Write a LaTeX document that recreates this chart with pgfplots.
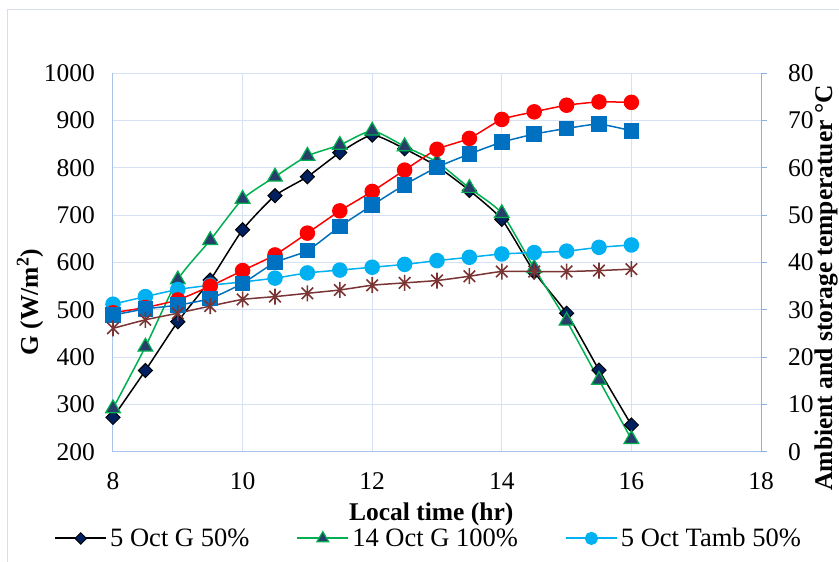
\documentclass[border=0pt]{standalone}
\usepackage{fontspec}
\setmainfont{Liberation Serif}
\usepackage{pgfplots}
\pgfplotsset{compat=1.18}
\definecolor{gridcol}{RGB}{214,226,244}
\definecolor{axiscol}{RGB}{168,196,234}
\definecolor{rightcol}{RGB}{143,175,222}
\definecolor{framecol}{RGB}{214,222,236}
\definecolor{navyc}{RGB}{0,32,96}
\definecolor{greenc}{RGB}{0,176,80}
\definecolor{trifill}{RGB}{38,62,105}
\definecolor{lblue}{RGB}{0,176,240}
\definecolor{redc}{RGB}{255,0,0}
\definecolor{bluec}{RGB}{0,112,192}
\definecolor{brownc}{RGB}{123,52,52}
\pgfdeclareplotmark{xstar}{%
  \pgfpathmoveto{\pgfqpoint{0pt}{\pgfplotmarksize}}%
  \pgfpathlineto{\pgfqpoint{0pt}{-\pgfplotmarksize}}%
  \pgfpathmoveto{\pgfqpoint{0.72\pgfplotmarksize}{0.72\pgfplotmarksize}}%
  \pgfpathlineto{\pgfqpoint{-0.72\pgfplotmarksize}{-0.72\pgfplotmarksize}}%
  \pgfpathmoveto{\pgfqpoint{-0.72\pgfplotmarksize}{0.72\pgfplotmarksize}}%
  \pgfpathlineto{\pgfqpoint{0.72\pgfplotmarksize}{-0.72\pgfplotmarksize}}%
  \pgfusepathqstroke}
\begin{document}
\begin{tikzpicture}[font=\fontsize{25.5}{30}\selectfont]
\path[use as bounding box] (0,0) rectangle (839pt,562pt);
\draw[framecol, line width=1pt] (7.5pt,-5pt) -- (7.5pt,552.7pt) -- (845pt,552.7pt);
\begin{axis}[
  at={(113pt,110pt)}, anchor=south west,
  scale only axis, width=648pt, height=379pt,
  xmin=8, xmax=18, ymin=200, ymax=1000,
  xtick={8,10,12,14,16,18}, ytick={200,300,...,1000},
  grid=major, major grid style={gridcol, line width=1pt},
  axis x line*=bottom, axis y line*=left,
  axis line style={axiscol, line width=1pt, -},
  major tick length=0pt,
  /pgf/number format/assume math mode=true,
  /pgf/number format/1000 sep={},
  xticklabel style={anchor=north, inner sep=0pt, yshift=-20pt},
  yticklabel style={anchor=east, inner sep=0pt, xshift=-18pt},
  xlabel={\bfseries Local time (hr)},
  xlabel style={at={(axis description cs:0.491,-0.164)}, anchor=center},
  ylabel={\bfseries G (W/m\textsuperscript{2})},
  ylabel style={at={(axis description cs:-0.128,0.395)}, anchor=center},
  clip=false,
  legend columns=3,
  legend style={at={(axis description cs:-0.091,-0.228)}, anchor=west, draw=none, fill=none, inner sep=0pt,
    font=\fontsize{26.5}{31}\selectfont,
    nodes={inner sep=3pt, anchor=west}, /tikz/every even column/.append style={column sep=44pt}},
  legend image code/.code={\draw[mark repeat=2,mark phase=2,#1,line width=2pt,every mark/.append style={scale=0.8}] plot coordinates {(0pt,0pt)(25.5pt,0pt)(51pt,0pt)};},
]
\addplot[black, line width=1.5pt, smooth, tension=0.35, mark=square*, mark size=5pt,
  mark options={rotate=45, fill=navyc, draw=black, line width=1pt}] coordinates {
(8,273) (8.5,372) (9,475) (9.5,563) (10,669) (10.5,741) (11,781) (11.5,832) (12,869)
(12.5,840) (13,803) (13.5,752) (14,691) (14.5,580) (15,493) (15.5,373) (16,257)};
\addlegendentry{5 Oct G 50\%}
\addplot[greenc, line width=1.5pt, smooth, tension=0.35, mark=triangle*, mark size=8.5pt,
  mark options={fill=trifill, draw=greenc, line width=1.2pt}] coordinates {
(8,292) (8.5,422) (9,564) (9.5,647) (10,734) (10.5,781) (11,825) (11.5,848) (12,878)
(12.5,845) (13,812) (13.5,757) (14,704) (14.5,588) (15,477) (15.5,352) (16,227)};
\addlegendentry{14 Oct G 100\%}
\addlegendimage{lblue, line width=1.5pt, mark=*, mark size=7pt, mark options={fill=lblue, draw=lblue}}
\addlegendentry{5 Oct Tamb 50\%}
\end{axis}
\begin{axis}[
  at={(113pt,110pt)}, anchor=south west,
  scale only axis, width=648pt, height=379pt,
  xmin=8, xmax=18, ymin=0, ymax=80, ytick={0,10,...,80},
  axis x line=none, axis y line*=right,
  axis line style={rightcol, line width=1pt, -},
  y tick style={rightcol, line width=1pt}, tick align=outside, major tick length=6pt,
  /pgf/number format/assume math mode=true,
  yticklabel style={anchor=west, inner sep=0pt, xshift=21pt},
  ylabel={\bfseries Ambient and storage temperatuer °C},
  ylabel style={at={(axis description cs:1.1003,0.433)}, anchor=center},
  clip=false,
]
\addplot[lblue, line width=1.5pt, smooth, tension=0.35, mark=*, mark size=7pt,
  mark options={fill=lblue, draw=lblue}] coordinates {
(8,31.2) (8.5,32.8) (9,34.3) (9.5,35.2) (10,35.9) (10.5,36.7) (11,37.8) (11.5,38.4) (12,39.0)
(12.5,39.6) (13,40.4) (13.5,41.1) (14,41.8) (14.5,42.1) (15,42.4) (15.5,43.2) (16,43.7)};
\addplot[redc, line width=1.5pt, smooth, tension=0.35, mark=*, mark size=7pt,
  mark options={fill=redc, draw=redc}] coordinates {
(8,29.4) (8.5,30.5) (9,32.1) (9.5,35.0) (10,38.3) (10.5,41.6) (11,46.2) (11.5,50.9) (12,55.0)
(12.5,59.5) (13,63.9) (13.5,66.2) (14,70.2) (14.5,71.8) (15,73.2) (15.5,73.9) (16,73.8)};
\addplot[bluec, line width=1.5pt, smooth, tension=0.35, mark=square*, mark size=7pt,
  mark options={fill=bluec, draw=bluec}] coordinates {
(8,28.9) (8.5,30.2) (9,31.0) (9.5,32.4) (10,35.6) (10.5,40.0) (11,42.5) (11.5,47.6) (12,52.1)
(12.5,56.4) (13,60.1) (13.5,62.9) (14,65.4) (14.5,67.1) (15,68.3) (15.5,69.2) (16,67.8)};
\addplot[brownc, line width=1.5pt, smooth, tension=0.35, mark=xstar, mark size=8pt,
  mark options={draw=brownc, line width=1.6pt}] coordinates {
(8,26.1) (8.5,27.9) (9,29.3) (9.5,30.8) (10,32.2) (10.5,32.8) (11,33.5) (11.5,34.2) (12,35.2)
(12.5,35.7) (13,36.2) (13.5,37.1) (14,38.1) (14.5,38.1) (15,38.1) (15.5,38.3) (16,38.6)};
\end{axis}
\end{tikzpicture}
\end{document}
